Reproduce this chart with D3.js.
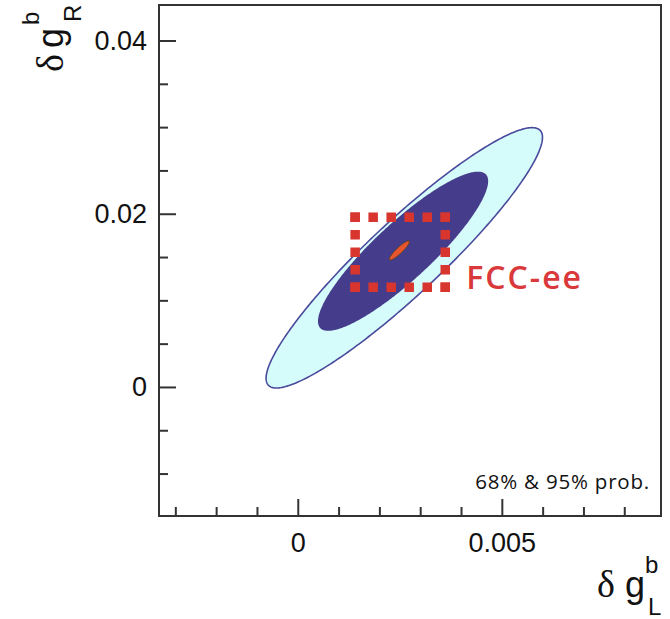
<!DOCTYPE html>
<html>
<head>
<meta charset="utf-8">
<script src="https://cdn.jsdelivr.net/npm/d3@7"></script>
<style>
  body { margin: 0; background: #fff; }
  svg { display: block; }
  .tick text { font-family: "Liberation Sans", Arial, sans-serif; font-size: 27px; fill: #111; }
  .domain { display: none; }
  .tick line { stroke: #333; stroke-width: 2; }
</style>
</head>
<body>
<svg id="chart" width="670" height="619"></svg>
<script>
// Data -----------------------------------------
var xMajor = [0, 0.005];
var xMinor = [-0.003, -0.002, -0.001, 0.001, 0.002, 0.003, 0.004, 0.006, 0.007, 0.008];
var yMajor = [0, 0.02, 0.04];
var yMinor = [-0.01, -0.005, 0.005, 0.01, 0.015, 0.025, 0.03, 0.035];
var xTickLabels = ["0", "0.005"];
var yTickLabels = ["0", "0.02", "0.04"];

// contours: 95% prob, 68% prob, FCC-ee
var regions = ["95%", "68%", "FCC-ee"];
var centerX = [0.00261, 0.00258, 0.00249];
var centerY = [0.01491, 0.01567, 0.01576];
var halfX   = [0.003386, 0.002085, 0.000245];
var halfY   = [0.01503, 0.00919, 0.00110];
var corr    = [0.925, 0.88, 0.91];
var fills   = ["#d6fbfb", "#453c8b", "#e8562f"];
var strokes = ["#4a4a9c", "none", "#6a4a12"];

// FCC-ee zoom box
var boxX = [0.001406, 0.003614];
var boxY = [0.0115, 0.0196];

var svg = d3.select("#chart");
var mLeft = 159, mRight = 661, mTop = 5, mBottom = 516;

// Scales ---------------------------------------
var x = d3.scaleLinear().domain([-0.0034, 0.0089]).range([mLeft, mRight]);
var y = d3.scaleLinear().domain([-0.0149, 0.0441]).range([mBottom, mTop]);

// Contours -------------------------------------
var line = d3.line().curve(d3.curveLinearClosed);
var angles = d3.range(0, 2 * Math.PI, Math.PI / 180);

regions.forEach(function(r, i) {
  var pts = angles.map(function(t) {
    var dx = halfX[i] * Math.cos(t);
    var dy = halfY[i] * (corr[i] * Math.cos(t) + Math.sqrt(1 - corr[i] * corr[i]) * Math.sin(t));
    return [x(centerX[i] + dx), y(centerY[i] + dy)];
  });
  svg.append("path")
    .attr("d", line(pts))
    .attr("fill", fills[i])
    .attr("stroke", strokes[i])
    .attr("stroke-width", i == 2 ? 1 : 1.6);
});

// Dotted box: each side dashed so squares sit on the corners
var dot = 9.5;
var corners = [
  [x(boxX[0]), y(boxY[1])], [x(boxX[1]), y(boxY[1])],
  [x(boxX[1]), y(boxY[0])], [x(boxX[0]), y(boxY[0])]
];
corners.forEach(function(a, i) {
  var b = corners[(i + 1) % 4];
  var len = Math.hypot(b[0] - a[0], b[1] - a[1]);
  var n = Math.round(len / 18);
  var ux = (b[0] - a[0]) / len, uy = (b[1] - a[1]) / len;
  svg.append("line")
    .attr("x1", a[0] - ux * dot / 2).attr("y1", a[1] - uy * dot / 2)
    .attr("x2", b[0] + ux * dot / 2).attr("y2", b[1] + uy * dot / 2)
    .attr("stroke", "#d8352f")
    .attr("stroke-width", dot)
    .attr("stroke-dasharray", dot + " " + (len / n - dot));
});

svg.append("text")
  .attr("x", x(boxX[1]) + 21)
  .attr("y", y(boxY[0]) + 2)
  .attr("font-family", "'Open Sans', sans-serif")
  .attr("font-weight", 600)
  .attr("font-size", 32)
  .attr("letter-spacing", 2)
  .attr("fill", "#d9393a")
  .text("FCC-ee");

// Axes -----------------------------------------
svg.append("g")
  .attr("transform", "translate(0," + mBottom + ")")
  .call(d3.axisBottom(x).tickValues(xMajor).tickSize(-17).tickPadding(17)
    .tickFormat(function(d, i) { return xTickLabels[i]; }));
svg.append("g")
  .attr("transform", "translate(0," + mBottom + ")")
  .call(d3.axisBottom(x).tickValues(xMinor).tickSize(-9).tickFormat(""));

svg.append("g")
  .attr("transform", "translate(" + mLeft + ",0)")
  .call(d3.axisLeft(y).tickValues(yMajor).tickSize(-17).tickPadding(12)
    .tickFormat(function(d, i) { return yTickLabels[i]; }));
svg.append("g")
  .attr("transform", "translate(" + mLeft + ",0)")
  .call(d3.axisLeft(y).tickValues(yMinor).tickSize(-9).tickFormat(""));

// Frame
svg.append("rect")
  .attr("x", mLeft).attr("y", mTop)
  .attr("width", mRight - mLeft).attr("height", mBottom - mTop)
  .attr("fill", "none")
  .attr("stroke", "#333")
  .attr("stroke-width", 2);

// Legend text
svg.append("text")
  .attr("x", 650).attr("y", 489)
  .attr("text-anchor", "end")
  .attr("font-family", "'Open Sans', sans-serif")
  .attr("font-size", 20.5)
  .attr("letter-spacing", 0.8)
  .attr("fill", "#111")
  .text("68% & 95% prob.");

// Axis titles ----------------------------------
var xt = svg.append("text")
  .attr("x", 597).attr("y", 597)
  .attr("fill", "#111");
xt.append("tspan").attr("font-family", "Liberation Serif, serif").attr("font-size", 38).text("δ");
xt.append("tspan").attr("font-family", "Liberation Sans, sans-serif").attr("font-size", 36).attr("dx", 10).text("g");
xt.append("tspan").attr("font-family", "Liberation Sans, sans-serif").attr("font-size", 24).attr("dy", -24).text("b");
xt.append("tspan").attr("font-family", "Liberation Sans, sans-serif").attr("font-size", 24)
  .attr("x", 648).attr("dy", 42).text("L");

var yt = svg.append("text")
  .attr("transform", "translate(63,72) rotate(-90)")
  .attr("fill", "#111");
yt.append("tspan").attr("font-family", "Liberation Serif, serif").attr("font-size", 38).text("δ");
yt.append("tspan").attr("font-family", "Liberation Sans, sans-serif").attr("font-size", 36).attr("dx", 6).text("g");
yt.append("tspan").attr("font-family", "Liberation Sans, sans-serif").attr("font-size", 24).attr("dx", 3).attr("dy", -24).text("b");
yt.append("tspan").attr("font-family", "Liberation Sans, sans-serif").attr("font-size", 24)
  .attr("x", 50).attr("dy", 42).text("R");
</script>
</body>
</html>
